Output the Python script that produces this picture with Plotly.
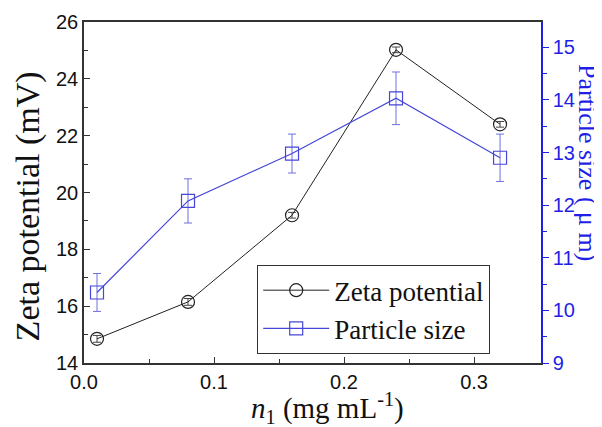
import plotly.graph_objects as go

n1 = [0.01, 0.08, 0.16, 0.24, 0.32]
zeta = [14.85, 16.15, 19.2, 25.02, 22.4]
zeta_err = [0.12, 0.12, 0.1, 0.1, 0.1]
psize = [10.34, 12.08, 12.98, 14.03, 12.9]
psize_err = [0.36, 0.42, 0.37, 0.5, 0.45]

BLUE_LINE = "#4646d8"
BLUE_AX = "#1f1fe6"
SERIF = "Liberation Serif, Times New Roman"

fig = go.Figure()
fig.add_trace(go.Scatter(
    x=n1, y=zeta, name="Zeta potential", mode="lines+markers",
    line=dict(color="#222222", width=1),
    marker=dict(symbol="circle-open", size=13, color="#222222", line=dict(width=1.2)),
    error_y=dict(type="data", array=zeta_err, color="#444444", thickness=1, width=4),
))
fig.add_trace(go.Scatter(
    x=n1, y=psize, name="Particle size", mode="lines+markers", yaxis="y2",
    line=dict(color=BLUE_LINE, width=1.2),
    marker=dict(symbol="square-open", size=13, color=BLUE_LINE, line=dict(width=1.2)),
    error_y=dict(type="data", array=psize_err, color="#7070e0", thickness=1, width=4),
))

tickfont = dict(family="Liberation Sans, Arial", size=20, color="#111111")
fig.update_layout(
    width=594, height=419,
    margin=dict(l=76, r=61, t=14, b=64, autoexpand=False),
    paper_bgcolor="white", plot_bgcolor="white",
    showlegend=True,
    legend=dict(x=0.379, y=0.287, xanchor="left", yanchor="top",
                bordercolor="#333333", borderwidth=1, bgcolor="white",
                font=dict(family=SERIF, size=27, color="#111111"),
                tracegroupgap=0, itemwidth=66),
    xaxis=dict(range=[0, 0.3515], tickvals=[0.0, 0.1, 0.2, 0.3], ticktext=["0.0", "0.1", "0.2", "0.3"],
               ticks="inside", ticklen=6, tickcolor="#333333", showline=True, linecolor="#333333",
               linewidth=1.5, mirror=True, showgrid=False, zeroline=False, tickfont=tickfont,
               minor=dict(tickvals=[0.05, 0.15, 0.25], ticks="inside", ticklen=4, tickcolor="#333333")),
    yaxis=dict(range=[14, 26], tickvals=[14, 16, 18, 20, 22, 24, 26],
               ticks="inside", ticklen=6, tickcolor="#333333", showline=True, linecolor="#333333",
               linewidth=1.5, showgrid=False, zeroline=False, tickfont=tickfont,
               minor=dict(tickvals=[15, 17, 19, 21, 23, 25], ticks="inside", ticklen=4, tickcolor="#333333")),
    yaxis2=dict(range=[9, 15.48], overlaying="y", side="right",
                tickvals=[9, 10, 11, 12, 13, 14, 15],
                ticks="outside", ticklen=6, tickcolor=BLUE_AX, showline=True, linecolor=BLUE_AX,
                linewidth=1.5, showgrid=False, zeroline=False,
                tickfont=dict(family="Liberation Sans, Arial", size=20, color=BLUE_AX),
                minor=dict(tickvals=[9.5, 10.5, 11.5, 12.5, 13.5, 14.5], ticks="outside", ticklen=4, tickcolor=BLUE_AX)),
    annotations=[
        dict(text="Zeta potential (mV)", textangle=-90, x=-0.122, y=0.46, xref="paper", yref="paper",
             showarrow=False, xanchor="center", yanchor="middle",
             font=dict(family=SERIF, size=34, color="#111111")),
        dict(text="Particle size ( μ m)", textangle=90, x=1.103, y=0.589, xref="paper", yref="paper",
             showarrow=False, xanchor="center", yanchor="middle",
             font=dict(family=SERIF, size=26, color=BLUE_AX)),
        dict(text="<i>n</i><sub>1</sub> (mg mL<sup>-1</sup>)", x=0.532, y=-0.132, xref="paper", yref="paper",
             showarrow=False, xanchor="center", yanchor="middle",
             font=dict(family=SERIF, size=29, color="#111111")),
    ],
)
fig.write_html("out.html")
